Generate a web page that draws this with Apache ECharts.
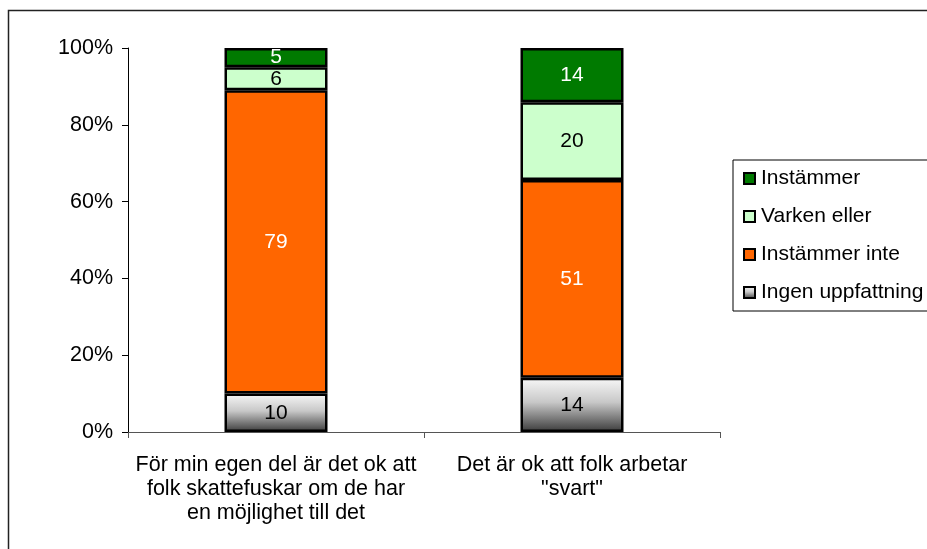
<!DOCTYPE html>
<html>
<head>
<meta charset="utf-8">
<script src="https://cdn.jsdelivr.net/npm/echarts@6/dist/echarts.min.js"></script>
<style>
  html, body { margin: 0; padding: 0; background: #fff; }
  #chart { width: 927px; height: 549px; }
</style>
</head>
<body>
<div id="chart"></div>
<script>
// frågor (kategorier)
var categories = [
  'För min egen del är det ok att\nfolk skattefuskar om de har\nen möjlighet till det',
  'Det är ok att folk arbetar\n"svart"'
];
var ingenUppfattning = [10, 14];
var instammerInte = [79, 51];
var varkenEller = [6, 20];
var instammer = [5, 14];
var yTicks = [0, 20, 40, 60, 80, 100];

var raw = [ingenUppfattning, instammerInte, varkenEller, instammer];
// summa per stapel, staplarna ritas som 100%
var totals = categories.map(function (c, i) {
  return raw.reduce(function (s, arr) { return s + arr[i]; }, 0);
});
function pct(arr) {
  return arr.map(function (v, i) { return v / totals[i] * 100; });
}

var font = 'Liberation Sans, Arial, sans-serif';

function serie(name, arr, color, textColor) {
  return {
    name: name,
    type: 'bar',
    stack: 'tot',
    barWidth: 103,
    data: pct(arr),
    itemStyle: { color: color, borderColor: '#000', borderWidth: 2.5 },
    label: {
      show: true,
      position: 'inside',
      color: textColor,
      fontFamily: font,
      fontSize: 21,
      formatter: function (p) { return arr[p.dataIndex]; }
    }
  };
}

var chart = echarts.init(document.getElementById('chart'));
chart.setOption({
  animation: false,
  backgroundColor: '#fff',
  graphic: [{
    type: 'rect',
    shape: { x: 8.5, y: 10.5, width: 1000, height: 600 },
    style: { fill: 'none', stroke: '#222', lineWidth: 1.5 }
  }],
  grid: { left: 128, top: 48, width: 592, bottom: 117 },
  legend: {
    orient: 'vertical',
    left: 733,
    top: 160,
    data: ['Instämmer', 'Varken eller', 'Instämmer inte', 'Ingen uppfattning'],
    icon: 'rect',
    itemWidth: 11,
    itemHeight: 11,
    itemGap: 17,
    padding: [8, 40, 8, 10],
    borderColor: '#000',
    borderWidth: 1,
    textStyle: { fontFamily: font, fontSize: 21, color: '#000', padding: [0, 0, 0, 1] }
  },
  xAxis: {
    type: 'category',
    data: categories,
    axisLine: { lineStyle: { color: '#555', width: 1 } },
    axisTick: { show: true, length: 6, lineStyle: { color: '#555' } },
    axisLabel: {
      interval: 0,
      margin: 21,
      color: '#000',
      fontFamily: font,
      fontSize: 21.5,
      lineHeight: 24
    }
  },
  yAxis: {
    type: 'value',
    min: yTicks[0],
    max: yTicks[yTicks.length - 1],
    interval: yTicks[1] - yTicks[0],
    splitLine: { show: false },
    axisLine: { show: true, lineStyle: { color: '#000', width: 1 } },
    axisTick: { show: true, length: 6, lineStyle: { color: '#000' } },
    axisLabel: {
      margin: 15,
      color: '#000',
      fontFamily: font,
      fontSize: 21.5,
      formatter: '{value}%'
    }
  },
  series: [
    serie('Ingen uppfattning', ingenUppfattning,
      new echarts.graphic.LinearGradient(0, 0, 0, 1, [
        { offset: 0, color: '#f8f8f8' },
        { offset: 0.45, color: '#c8c8c8' },
        { offset: 1, color: '#3a3a3a' }
      ]), '#000'),
    serie('Instämmer inte', instammerInte, '#ff6600', '#fff'),
    serie('Varken eller', varkenEller, '#ccffcc', '#000'),
    serie('Instämmer', instammer, '#007a00', '#fff')
  ]
});
</script>
</body>
</html>
